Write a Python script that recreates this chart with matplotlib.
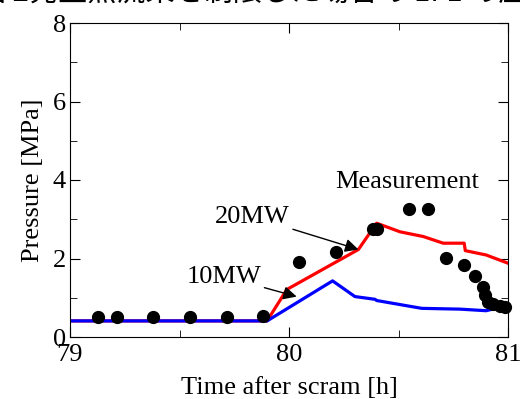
import matplotlib.pyplot as plt
from matplotlib.ticker import MultipleLocator

plt.rcParams['font.family'] = ['Liberation Serif', 'Noto Sans CJK JP', 'DejaVu Sans']

# measured pressure
meas_t = [79.13, 79.216, 79.38, 79.55, 79.715, 79.88, 80.047, 80.215, 80.385, 80.403,
          80.548, 80.633, 80.717, 80.80, 80.849, 80.884, 80.895, 80.91, 80.933, 80.963, 80.986]
meas_p = [0.52, 0.52, 0.52, 0.52, 0.52, 0.54, 1.92, 2.17, 2.75, 2.75,
          3.25, 3.25, 2.02, 1.83, 1.55, 1.28, 1.07, 0.90, 0.84, 0.80, 0.77]

# 20MW calculation
t20 = [79.0, 79.90, 79.99, 80.317, 80.40, 80.507, 80.613, 80.704, 80.80, 80.805, 80.90, 81.0]
p20 = [0.41, 0.41, 1.21, 2.23, 2.90, 2.68, 2.56, 2.39, 2.39, 2.20, 2.09, 1.88]

# 10MW calculation
t10 = [79.0, 79.90, 80.199, 80.301, 80.393, 80.40, 80.606, 80.78, 80.90, 81.0]
p10 = [0.41, 0.41, 1.43, 1.03, 0.96, 0.93, 0.73, 0.71, 0.67, 0.80]

fig = plt.figure(figsize=(5.2, 3.99), dpi=100)
ax = fig.add_axes([70 / 520, 1 - 337 / 399, 438 / 520, 314 / 399])

ax.plot(t20, p20, color='red', lw=2.3)
ax.plot(t10, p10, color='blue', lw=2.3)
ax.plot(meas_t, meas_p, 'o', color='black', markersize=8.5, clip_on=False, zorder=5)

ax.set_xlim(79, 81)
ax.set_ylim(0, 8)
ax.xaxis.set_major_locator(MultipleLocator(1))
ax.xaxis.set_minor_locator(MultipleLocator(0.5))
ax.yaxis.set_major_locator(MultipleLocator(2))
ax.yaxis.set_minor_locator(MultipleLocator(1))
ax.tick_params(which='both', direction='in', top=True, right=True, labelsize=19)
ax.tick_params(which='major', length=7)
ax.tick_params(which='minor', length=5)
ax.tick_params(axis='x', pad=5)
ax.tick_params(axis='y', pad=3)

ax.set_xlabel('Time after scram [h]', fontsize=19, labelpad=8)
ax.set_ylabel('Pressure [MPa]', fontsize=19, labelpad=6)

ax.text(80.54, 3.96, 'Measurement', fontsize=19, ha='center', va='center')
ax.annotate('20MW', xy=(80.317, 2.23), xytext=(80.005, 3.06), fontsize=19,
            ha='right', va='center',
            arrowprops=dict(arrowstyle='-|>', color='black', lw=1, mutation_scale=20,
                            shrinkA=0, shrinkB=0))
ax.annotate('10MW', xy=(80.035, 1.03), xytext=(79.875, 1.54), fontsize=19,
            ha='right', va='center',
            arrowprops=dict(arrowstyle='-|>', color='black', lw=1, mutation_scale=20,
                            shrinkA=0, shrinkB=0))

# caption, clipped by the top edge as in the source image
fig.text(-23 / 520, 1 - 1 / 399, '図 2発生熱流束を制限した場合の 1F1 の圧力変化',
         fontsize=21, ha='left', va='baseline',
         family=['Noto Sans CJK JP', 'DejaVu Sans'])

fig.savefig('out.png', dpi=100)
